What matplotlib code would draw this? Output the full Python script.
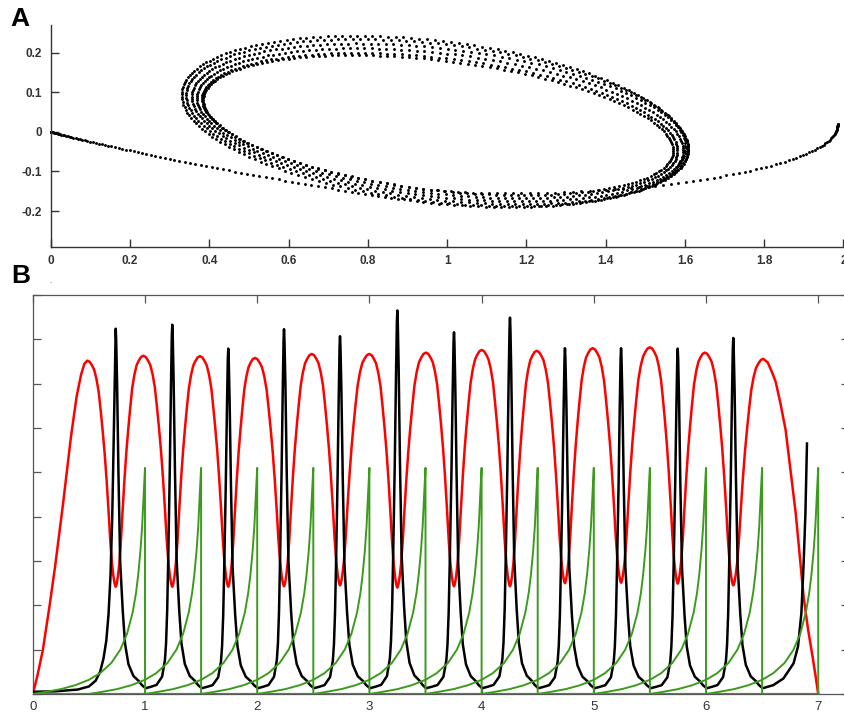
import numpy as np
import matplotlib
matplotlib.use("Agg")
import matplotlib.pyplot as plt

plt.rcParams['font.family'] = ['Liberation Sans', 'DejaVu Sans']

W, H = 845, 714

# ---------------- panel A: phase plot ----------------
# extremes of every turn of the loop
loop_xleft = [0.325, 0.332, 0.345, 0.36, 0.372, 0.385]
loop_xright = [1.60, 1.606, 1.612, 1.60, 1.585, 1.57]
loop_ytop = [0.246, 0.240, 0.230, 0.218, 0.206, 0.194]
loop_ybot = [-0.19, -0.188, -0.183, -0.176, -0.168, -0.16]
loop_tilt = -6.7          # degrees, tilt of the long axis
dots_per_loop = 200
# bezier control points of the tail coming in from (0,0) and the one leaving to the right
entry_ctrl = [(0.0, 0.0), (0.25, -0.065), (0.686, -0.145)]
exit_ctrl = [(1.99, -0.12), (1.985, 0.02)]

# ---------------- panel B: time courses ----------------
red_head_t = [0, 0.04, 0.09, 0.15, 0.2, 0.27, 0.34, 0.39, 0.43, 0.46, 0.486]
red_head_v = [0, 0.4, 1.0, 2.0, 2.9, 4.3, 5.8, 6.7, 7.2, 7.45, 7.52]
red_peak_t = [0.486, 0.985, 1.49, 1.98, 2.486, 2.999, 3.504, 4.001, 4.491, 4.99, 5.50, 5.99, 6.51]
red_peak_v = [7.52, 7.63, 7.62, 7.58, 7.67, 7.67, 7.70, 7.76, 7.74, 7.80, 7.82, 7.70, 7.56]
red_trough_t = [0.739, 1.243, 1.742, 2.239, 2.738, 3.249, 3.754, 4.253, 4.743, 5.243, 5.748, 6.243]
red_trough_v = [2.42, 2.42, 2.42, 2.43, 2.45, 2.40, 2.43, 2.43, 2.50, 2.51, 2.49, 2.45]
red_tail_t = [6.51, 6.55, 6.59, 6.62, 6.66, 6.71, 6.755, 6.80, 6.84, 6.87, 6.91, 6.95, 6.98, 7.0]
red_tail_v = [7.56, 7.48, 7.25, 7.05, 6.6, 5.95, 5.0, 4.07, 3.0, 2.19, 1.45, 0.84, 0.35, 0.0]
# shape of one half wave, peak -> trough (fraction of the time gap, fraction of the swing)
red_half_s = [0, 0.08, 0.16, 0.24, 0.32, 0.40, 0.47, 0.54, 0.61, 0.68, 0.75, 0.81, 0.87, 0.92,
              0.96, 0.985, 1.0]
red_half_r = [1, 0.995, 0.98, 0.96, 0.92, 0.862, 0.78, 0.69, 0.59, 0.47, 0.33, 0.2, 0.1, 0.045,
              0.015, 0.003, 0]

black_head_t = [0, 0.2, 0.4, 0.5, 0.56, 0.6, 0.63, 0.655, 0.675, 0.693, 0.708, 0.72, 0.731, 0.739]
black_head_v = [0.05, 0.06, 0.1, 0.17, 0.3, 0.5, 0.8, 1.2, 1.8, 2.7, 4.0, 5.6, 7.2, 8.24]
black_peak_t = [0.739, 1.243, 1.742, 2.239, 2.738, 3.249, 3.754, 4.253, 4.743, 5.243, 5.748, 6.243]
black_peak_v = [8.24, 8.33, 7.79, 8.23, 8.07, 8.65, 8.16, 8.49, 7.80, 7.80, 7.79, 8.03]
black_trough_t = [1.005, 1.505, 2.005, 2.505, 3.005, 3.505, 4.005, 4.505, 5.005, 5.505, 6.005, 6.505]
black_base = 0.13
black_tail_t = [6.6, 6.69, 6.78, 6.82, 6.85, 6.87, 6.886, 6.90]
black_tail_v = [0.2, 0.35, 0.69, 1.07, 1.82, 2.94, 4.07, 5.65]
# spike shape: time from the peak and fraction of the spike height
black_rise_dt = [-0.237, -0.19, -0.14, -0.09, -0.065, -0.055, -0.045, -0.036, -0.022, -0.011, -0.004, 0]
black_rise_f = [0, 0.004, 0.009, 0.032, 0.078, 0.124, 0.215, 0.354, 0.6, 0.84, 0.97, 1.0]
black_fall_dt = [0, 0.004, 0.012, 0.024, 0.039, 0.062, 0.082, 0.112, 0.156, 0.2, 0.23, 0.263]
black_fall_f = [1.0, 0.97, 0.85, 0.6, 0.354, 0.215, 0.124, 0.067, 0.034, 0.021, 0.009, 0]

green_spike_t = [1.0, 1.5, 2.0, 2.5, 3.0, 3.5, 4.0, 4.5, 5.0, 5.5, 6.0, 6.5, 7.0]
green_lead = [1.0, 0.88, 0.75, 0.62, 0.5, 0.4, 0.3, 0.22, 0.16, 0.11, 0.08, 0.06, 0.04, 0.025, 0.012, 0.0]
green_val = [0, 0.05, 0.11, 0.2, 0.32, 0.47, 0.7, 1.0, 1.36, 1.84, 2.28, 2.7, 3.25, 3.8, 4.5, 5.1]

RED = '#ff0000'
GREEN = '#3c9b1c'
TICKC = '#333333'


def bezier(p0, p1, p2, p3, u):
    u = u[:, None]
    p = ((1 - u) ** 3) * np.array(p0) + 3 * ((1 - u) ** 2) * u * np.array(p1) \
        + 3 * (1 - u) * u ** 2 * np.array(p2) + u ** 3 * np.array(p3)
    return p[:, 0], p[:, 1]


# ellipse parameters for each turn
c, s = np.cos(np.radians(loop_tilt)), np.sin(np.radians(loop_tilt))
xl, xr = np.array(loop_xleft), np.array(loop_xright)
yt, yb = np.array(loop_ytop), np.array(loop_ybot)
hw, hh = (xr - xl) / 2, (yt - yb) / 2
ell_cx, ell_cy = (xl + xr) / 2, (yt + yb) / 2
ell_a = np.sqrt((hw ** 2 * c ** 2 - hh ** 2 * s ** 2) / (c ** 2 - s ** 2))
ell_b = np.sqrt((hh ** 2 * c ** 2 - hw ** 2 * s ** 2) / (c ** 2 - s ** 2))


def ell_point(th, cx, cy, a, b):
    return (cx + a * np.cos(th) * c - b * np.sin(th) * s,
            cy + a * np.cos(th) * s + b * np.sin(th) * c)


nl = len(loop_xleft)
px, py = [], []
# tail from the origin
j0x, j0y = ell_point(-np.pi / 2, ell_cx[0], ell_cy[0], ell_a[0], ell_b[0])
u = np.linspace(0, 1, 90, endpoint=False) ** 1.8
ex, ey = bezier(entry_ctrl[0], entry_ctrl[1], entry_ctrl[2], (j0x, j0y), u)
px.append(ex)
py.append(ey)
# the turns, each one blending into the next
for k in range(nl):
    k2 = min(k + 1, nl - 1)
    w = np.linspace(0, 1, dots_per_loop, endpoint=False)
    th = -np.pi / 2 + 2 * np.pi * w
    lx, ly = ell_point(th,
                       ell_cx[k] + (ell_cx[k2] - ell_cx[k]) * w,
                       ell_cy[k] + (ell_cy[k2] - ell_cy[k]) * w,
                       ell_a[k] + (ell_a[k2] - ell_a[k]) * w,
                       ell_b[k] + (ell_b[k2] - ell_b[k]) * w)
    px.append(lx)
    py.append(ly)
# tail leaving to the right
k = nl - 1
q0 = ell_point(-np.pi / 2, ell_cx[k], ell_cy[k], ell_a[k], ell_b[k])
q1 = (q0[0] + 0.5 * ell_a[k] * c, q0[1] + 0.5 * ell_a[k] * s)
u = 1 - (1 - np.linspace(0, 1, 85)) ** 1.5
ox, oy = bezier(q0, q1, exit_ctrl[0], exit_ctrl[1], u)
px.append(ox)
py.append(oy)
px = np.concatenate(px)
py = np.concatenate(py)

# ---- red trace
red_t, red_v = list(red_head_t), list(red_head_v)
hs, hr = np.array(red_half_s), np.array(red_half_r)
for i in range(len(red_trough_t)):
    t0, v0 = red_peak_t[i], red_peak_v[i]
    t1, v1 = red_trough_t[i], red_trough_v[i]
    red_t += list(t0 + hs[1:] * (t1 - t0))
    red_v += list(v1 + hr[1:] * (v0 - v1))
    t2, v2 = red_peak_t[i + 1], red_peak_v[i + 1]
    rt = (t2 + hs * (t1 - t2))[::-1]
    rv = (v1 + hr * (v2 - v1))[::-1]
    red_t += list(rt[1:])
    red_v += list(rv[1:])
red_t += red_tail_t[1:]
red_v += red_tail_v[1:]

# ---- black trace
blk_t, blk_v = list(black_head_t), list(black_head_v)
rdt, rf = np.array(black_rise_dt), np.array(black_rise_f)
fdt, ff = np.array(black_fall_dt), np.array(black_fall_f)
for i, (tp, hp) in enumerate(zip(black_peak_t, black_peak_v)):
    if i > 0:
        scale = (tp - black_trough_t[i - 1]) / -rdt[0]
        blk_t += list(tp + rdt[1:] * scale)
        blk_v += list(black_base + (hp - black_base) * rf[1:])
    scale = (black_trough_t[i] - tp) / fdt[-1]
    blk_t += list(tp + fdt[1:] * scale)
    blk_v += list(black_base + (hp - black_base) * ff[1:])
blk_t += black_tail_t
blk_v += black_tail_v

fig = plt.figure(figsize=(W / 100, H / 100), dpi=100)

# ================= panel A =================
axA = fig.add_axes([50.7 / W, 1 - 246.7 / H, (843.5 - 50.7) / W, 221.7 / H])
axA.plot(px, py, 'o', ms=2.1, mew=0, color='black', clip_on=False)
axA.set_xlim(0, 2)
axA.set_ylim(-0.29, 0.27)
axA.spines['top'].set_visible(False)
axA.spines['right'].set_visible(False)
for sp in ('left', 'bottom'):
    axA.spines[sp].set_color('#333333')
    axA.spines[sp].set_linewidth(1.0)
xt = np.round(np.arange(0, 2.01, 0.2), 1)
axA.set_xticks(xt)
axA.set_xticklabels(['%g' % v for v in xt])
yt_ = [-0.2, -0.1, 0, 0.1, 0.2]
axA.set_yticks(yt_)
axA.set_yticklabels(['%g' % v for v in yt_])
axA.tick_params(direction='in', length=5.5, width=1.0, color='#333333',
                labelsize=8.5, labelcolor=TICKC, pad=6)
for lab in axA.get_xticklabels() + axA.get_yticklabels():
    lab.set_fontweight('bold')

# ================= panel B =================
axB = fig.add_axes([32.8 / W, 1 - 694 / H, (849 - 32.8) / W, 399 / H])
axB.plot(red_t, red_v, color=RED, lw=1.8, zorder=3)
axB.plot(blk_t, blk_v, color='black', lw=1.8, zorder=4)
axB.plot([0, 7], [0, 0], color=GREEN, lw=1.6, zorder=5)
lead, gv = np.array(green_lead), np.array(green_val)
for ts in green_spike_t:
    axB.plot(list(ts - lead) + [ts], list(gv) + [0], color=GREEN, lw=1.4, zorder=5)
axB.set_xlim(0, (849 - 32.8) / 112.2)
axB.set_ylim(0, 9)
axB.set_xticks(range(8))
axB.set_xticklabels([str(i) for i in range(8)])
axB.set_yticks(range(10))
axB.set_yticklabels([])
axB.tick_params(direction='in', length=6, width=0.9, color='#555555',
                top=True, right=True, labelsize=9.5, labelcolor=TICKC, pad=5)
for sp in axB.spines.values():
    sp.set_color('#555555')
    sp.set_linewidth(0.9)

fig.text(20 / W, 1 - 19 / H, 'A', fontsize=19, fontweight='bold', ha='center', va='center')
fig.text(21 / W, 1 - 276 / H, 'B', fontsize=19, fontweight='bold', ha='center', va='center')
fig.text(50 / W, 1 - 282 / H, '.', fontsize=6, color='#555555', ha='center', va='center')

fig.savefig('out.png', dpi=100)
